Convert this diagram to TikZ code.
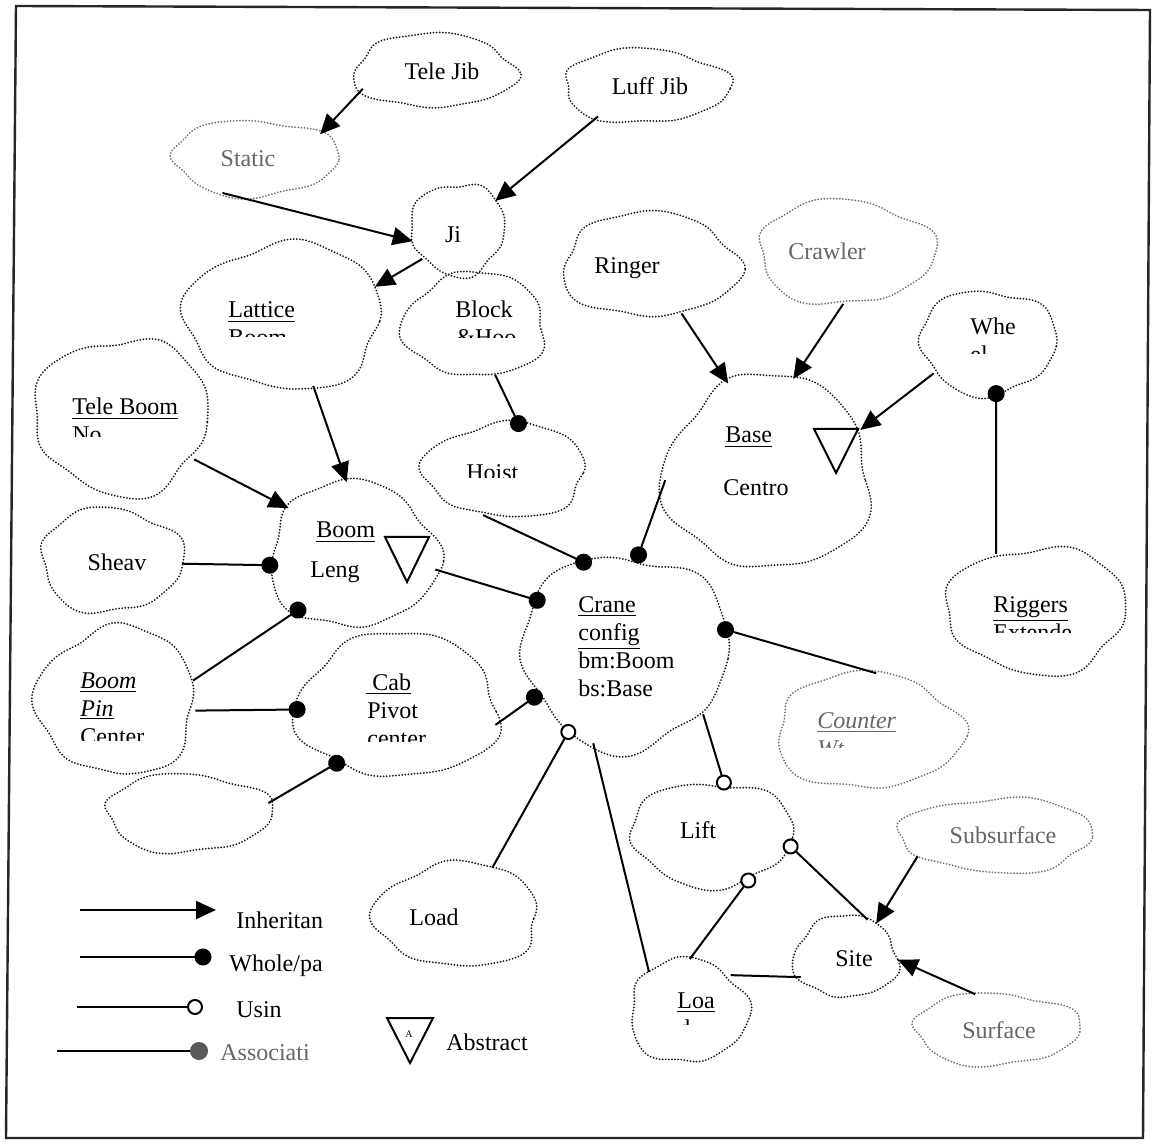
\documentclass[tikz,border=0pt]{standalone}
\usepackage{fontspec}
\setmainfont{Liberation Serif}
\usetikzlibrary{arrows.meta,shapes.geometric}
\newcommand\cloudat[7]{%
  \node[blob, minimum width=#4pt, minimum height=#5pt] (#1) at (#2,#3) {};
  \draw[#7] plot[domain=0:355, samples=72, smooth cycle, variable=\t]
    ({#2+#4*cos(\t)*(1+0.05*sin(3*\t+#6)+0.035*sin(5*\t+2*#6)+0.02*sin(8*\t+3*#6))},
     {#3+#5*sin(\t)*(1+0.05*sin(3*\t+#6)+0.035*sin(5*\t+2*#6)+0.02*sin(8*\t+3*#6))});
}
\newcommand\cliptext[6]{% name, x, y(baseline), text, clip top, clip bottom
  \begin{scope}
    \clip (#2-10,#5) rectangle (#2+140,#6);
    \node[ltxt] (#1) at (#2,#3) {#4};
  \end{scope}
}
\begin{document}
\begin{tikzpicture}[x=0.5pt,y=-0.5pt,
  blob/.style={shape=ellipse, draw=none, inner sep=0pt, outer sep=0pt},
  cloudline/.style={line width=1pt, dash pattern=on 0pt off 1.55pt, line cap=round, draw=black!90},
  lightcloud/.style={cloudline, draw=black!55},
  conn/.style={line width=1pt, draw=black},
  inh/.style={conn, -{Triangle[length=10pt,width=9pt]}},
  whole/.style={conn, -{Circle[length=8.5pt]}, shorten >=-4.25pt},
  uses/.style={conn, -{Circle[length=8pt,fill=white]}, shorten >=-4pt},
  assoc/.style={conn, -{Circle[length=9pt,fill=black!65,color=black!65]}, shorten >=-4.5pt},
  txt/.style={font=\fontsize{12}{14}\selectfont, inner sep=0pt, anchor=base},
  ltxt/.style={txt, anchor=base west},
  graytxt/.style={text=black!60}]
\useasboundingbox (0,0) rectangle (1157,1144);
\fill[white] (0,0) rectangle (1157,1144);
% frame
\draw[line width=1.2pt, black!85] (16,6) -- (1150,10) -- (1143,1138) -- (6,1138) -- cycle;

% clouds
\cloudat{telejib}{434}{71}{81}{37}{20}{cloudline}
\cloudat{luffjib}{645}{86}{83}{37}{80}{cloudline}
\cloudat{static}{255}{158}{83}{38}{140}{lightcloud}
\cloudat{ji}{458}{229}{47}{46}{200}{cloudline}
\cloudat{lattice}{285}{316}{98}{73}{260}{cloudline}
\cloudat{block}{475}{325}{71}{52}{320}{cloudline}
\cloudat{ringer}{650}{265}{88}{52}{30}{cloudline}
\cloudat{crawler}{845}{252}{88}{52}{90}{lightcloud}
\cloudat{whe}{988}{342}{68}{52}{150}{cloudline}
\cloudat{teleboom}{122}{416}{87}{78}{210}{cloudline}
\cloudat{hoist}{506}{470}{81}{47}{270}{cloudline}
\cloudat{base}{768}{473}{103}{97}{330}{cloudline}
\cloudat{boom}{353}{555}{84}{73}{40}{cloudline}
\cloudat{sheav}{111}{560}{71}{52}{100}{cloudline}
\cloudat{crane}{625}{651}{103}{97}{160}{cloudline}
\cloudat{riggers}{1037}{610}{90}{63}{220}{cloudline}
\cloudat{boompin}{117}{701}{79}{74}{280}{cloudline}
\cloudat{cab}{398}{706}{101}{72}{340}{cloudline}
\cloudat{counter}{868}{731}{93}{58}{50}{lightcloud}
\cloudat{empty}{188}{813}{83}{39}{110}{cloudline}
\cloudat{lift}{712}{834}{81}{52}{170}{cloudline}
\cloudat{subsurface}{997}{835}{97}{37}{230}{lightcloud}
\cloudat{load}{458}{915}{82}{52}{290}{cloudline}
\cloudat{site}{846}{957}{52}{41}{350}{cloudline}
\cloudat{loa}{688}{1011}{59}{52}{60}{cloudline}
\cloudat{surface}{996}{1029}{83}{36}{120}{lightcloud}

% abstract markers
\draw[line width=1pt] (385,537) -- (429,537) -- (407,582) -- cycle;
\draw[line width=1pt] (814,429) -- (858,429) -- (836,473) -- cycle;

% texts
\node[txt] (tTeleJib) at (442,80) {Tele Jib};
\node[txt] (tLuffJib) at (650,95) {Luff Jib};
\node[txt, graytxt] (tStatic) at (248,167) {Static};
\node[txt] (tJi) at (453,243) {Ji};
\node[ltxt] (tLattice) at (228,318) {\underline{Lattice}};
\cliptext{tLattice2}{228}{346}{Boom}{320}{337}
\node[ltxt] (tBlock) at (455,318) {Block};
\cliptext{tBlock2}{456}{346}{\&Hoo}{320}{338}
\node[txt] (tRinger) at (627,274) {Ringer};
\node[txt, graytxt] (tCrawler) at (827,260) {Crawler};
\node[ltxt] (tWhe) at (970,335) {Whe};
\cliptext{tWhe2}{970}{363}{el}{340}{354}
\node[ltxt] (tTeleBoom) at (72,415) {\underline{Tele Boom}};
\cliptext{tTeleBoom2}{72}{443}{No}{420}{437}
\cliptext{tHoist}{466}{481}{Hoist}{450}{478}
\node[ltxt] (tBase) at (725,443) {\underline{Base}};
\node[ltxt] (tCentro) at (723,495) {Centro};
\node[ltxt] (tBoom) at (316,538) {\underline{Boom}};
\node[ltxt] (tLeng) at (310,577) {Leng};
\node[txt] (tSheav) at (117,570) {Sheav};
\node[ltxt] (tCrane) at (578,612) {\underline{Crane}};
\node[ltxt] (tConfig) at (578,640) {\underline{config}};
\node[ltxt] (tBm) at (578,668) {bm:Boom};
\node[ltxt] (tBs) at (578,696) {bs:Base};
\node[ltxt] (tRiggers) at (993,612) {\underline{Riggers}};
\cliptext{tRiggers2}{993}{640}{Extende}{618}{632}
\node[ltxt] (tBoomPin1) at (80,688) {\underline{\textit{Boom}}};
\node[ltxt] (tBoomPin2) at (80,716) {\underline{\textit{Pin}}};
\cliptext{tBoomPin3}{80}{744}{Center}{722}{740}
\node[ltxt] (tCab) at (366,690) {\underline{\hspace{3pt}Cab}};
\node[ltxt] (tPivot) at (367,718) {Pivot};
\cliptext{tPivot2}{367}{746}{center}{724}{741}
\node[ltxt, graytxt] (tCounter) at (817,728) {\underline{\textit{Counter}}};
\begin{scope}
  \clip (800,735) rectangle (900,747);
  \node[ltxt, graytxt] (tCounter2) at (817,756) {\textit{Wt}};
\end{scope}
\node[txt] (tLift) at (698,838) {Lift};
\node[txt, graytxt] (tSubsurface) at (1003,843) {Subsurface};
\node[ltxt] (tLoad) at (409,925) {Load};
\node[txt] (tSite) at (854,966) {Site};
\node[ltxt] (tLoa) at (677,1008) {\underline{Loa}};
\cliptext{tLoa2}{678}{1036}{d}{1012}{1024}
\node[txt, graytxt] (tSurface) at (999,1038) {Surface};

% connectors: inheritance
\draw[inh] (telejib.194) -- (static.20);
\draw[inh] (luffjib.213) -- (ji.37);
\draw[inh] (static.227) -- (ji.195);
\draw[inh] (ji.220) -- (lattice.18);
\draw[inh] (lattice.292) -- (boom.95);
\draw[inh] (teleboom.329) -- (boom.144);
\draw[inh] (ringer.303) -- (base.114);
\draw[inh] (crawler.268) -- (base.75);
\draw[inh] (whe.210) -- (base.25);
\draw[inh] (subsurface.195) -- (site.48);
\draw[inh] (surface.121) -- (site.357);
% whole/part
\draw[whole] (riggers.126) -- (whe.279);
\draw[whole] (block.292) -- (hoist.75);
\draw[whole] (sheav.357) -- (boom.187);
\draw[whole] (boompin.15) -- (boom.225);
\draw[whole] (boompin.353) -- (cab.182);
\draw[whole] (empty.7) -- (cab.223);
\draw[whole] (hoist.243) -- (crane.115);
\draw[whole] (boom.350) -- (crane.150);
\draw[whole] (base.184) -- (crane.82);
\draw[whole] (cab.349) -- (crane.207);
\draw[whole] (counter.82) -- (crane.12);
% using
\draw[uses] (load.54) -- (crane.235);
\draw[uses] (crane.321) -- (lift.77);
\draw[uses] (loa.88) -- (lift.308);
\draw[uses] (site.60) -- (lift.351);
% plain
\draw[conn] (crane.251) -- (loa.135);
\draw[conn] (site.204) -- (loa.40);

% legend
\coordinate (lgA1) at (80,910);
\coordinate (lgA2) at (216,910);
\draw[inh] (lgA1) -- (lgA2);
\node[ltxt] (tInh) at (236,928) {Inheritan};
\coordinate (lgB1) at (80,957);
\coordinate (lgB2) at (203,957);
\draw[whole] (lgB1) -- (lgB2);
\node[ltxt] (tWhole) at (229,971) {Whole/pa};
\coordinate (lgC1) at (77,1007);
\coordinate (lgC2) at (195,1007);
\draw[uses] (lgC1) -- (lgC2);
\node[ltxt] (tUsin) at (236,1017) {Usin};
\coordinate (lgD1) at (57,1051);
\coordinate (lgD2) at (199,1051);
\draw[assoc] (lgD1) -- (lgD2);
\node[ltxt, graytxt] (tAssoc) at (220,1060) {Associati};
\draw[line width=1pt] (387,1018) -- (433,1018) -- (410,1063) -- cycle;
\node[font=\fontsize{5}{5}\selectfont, inner sep=0pt] (tAmark) at (409,1034) {A};
\node[ltxt] (tAbstract) at (446,1050) {Abstract};
\end{tikzpicture}
\end{document}
